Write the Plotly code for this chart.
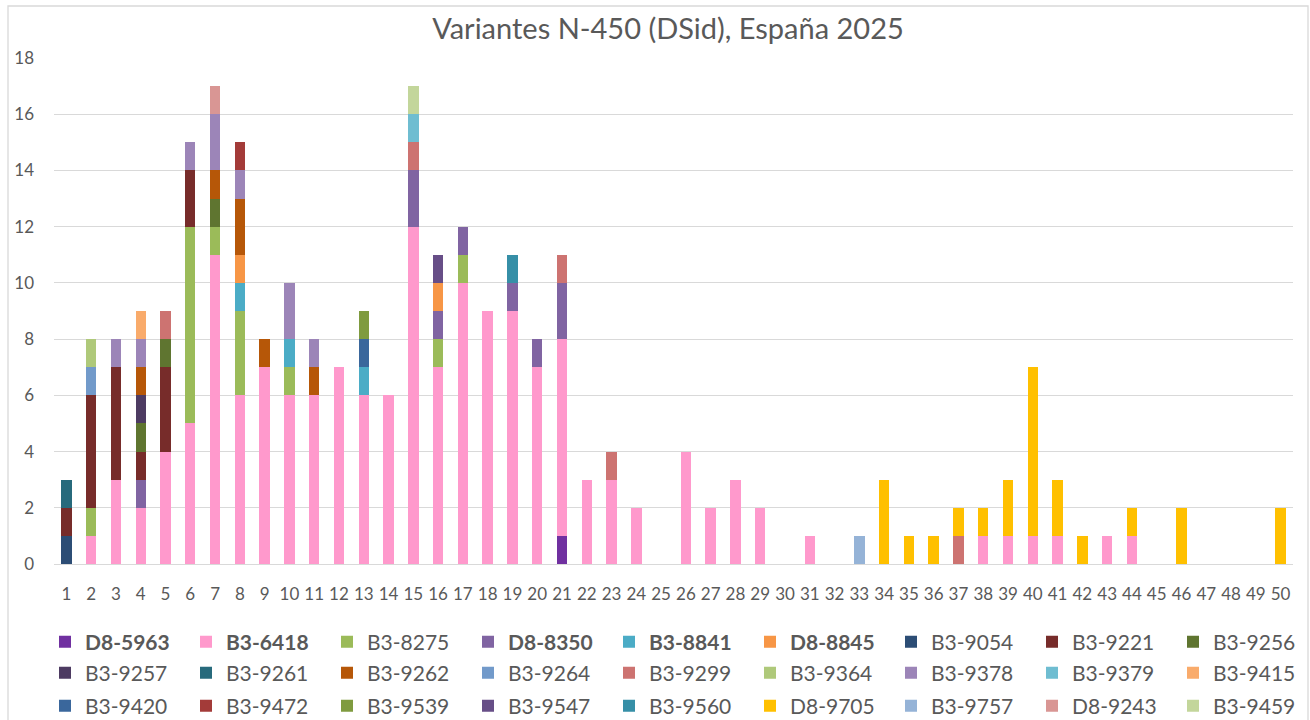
import plotly.graph_objects as go

categories = [str(i) for i in range(1, 51)]

series_names = ["<b>D8-5963</b>", "<b>B3-6418</b>", "B3-8275", "<b>D8-8350</b>", "<b>B3-8841</b>",
                "<b>D8-8845</b>", "B3-9054", "B3-9221", "B3-9256", "B3-9257", "B3-9261", "B3-9262",
                "B3-9264", "B3-9299", "B3-9364", "B3-9378", "B3-9379", "B3-9415", "B3-9420",
                "B3-9472", "B3-9539", "B3-9547", "B3-9560", "D8-9705", "B3-9757", "D8-9243", "B3-9459"]

series_colors = ["#7030A0", "#FF99CC", "#9BBB59", "#8064A2", "#4BACC6", "#F79646", "#2C4D75",
                 "#772C2A", "#5F7530", "#4D3B62", "#276A7C", "#B65708", "#729ACA", "#CD7371",
                 "#AFC97A", "#9C85B8", "#6FBDD1", "#F9AB6B", "#3A679C", "#A33B39", "#7F9B3F",
                 "#674E87", "#368FA7", "#FFC000", "#95B3D7", "#D99694", "#C3D69B"]

#            1  2  3  4  5  6  7  8  9 10 11 12 13 14 15 16 17 18 19 20 21 22 23 24 25 26 27 28 29 30 31 32 33 34 35 36 37 38 39 40 41 42 43 44 45 46 47 48 49 50
D8_5963 = [0, 0, 0, 0, 0, 0, 0, 0, 0, 0, 0, 0, 0, 0, 0, 0, 0, 0, 0, 0, 1, 0, 0, 0, 0, 0, 0, 0, 0, 0, 0, 0, 0, 0, 0, 0, 0, 0, 0, 0, 0, 0, 0, 0, 0, 0, 0, 0, 0, 0]
B3_6418 = [0, 1, 3, 2, 4, 5, 11, 6, 7, 6, 6, 7, 6, 6, 12, 7, 10, 9, 9, 7, 7, 3, 3, 2, 0, 4, 2, 3, 2, 0, 1, 0, 0, 0, 0, 0, 0, 1, 1, 1, 1, 0, 1, 1, 0, 0, 0, 0, 0, 0]
B3_8275 = [0, 1, 0, 0, 0, 7, 1, 3, 0, 1, 0, 0, 0, 0, 0, 1, 1, 0, 0, 0, 0, 0, 0, 0, 0, 0, 0, 0, 0, 0, 0, 0, 0, 0, 0, 0, 0, 0, 0, 0, 0, 0, 0, 0, 0, 0, 0, 0, 0, 0]
D8_8350 = [0, 0, 0, 1, 0, 0, 0, 0, 0, 0, 0, 0, 0, 0, 2, 1, 1, 0, 1, 1, 2, 0, 0, 0, 0, 0, 0, 0, 0, 0, 0, 0, 0, 0, 0, 0, 0, 0, 0, 0, 0, 0, 0, 0, 0, 0, 0, 0, 0, 0]
B3_8841 = [0, 0, 0, 0, 0, 0, 0, 1, 0, 1, 0, 0, 1, 0, 0, 0, 0, 0, 0, 0, 0, 0, 0, 0, 0, 0, 0, 0, 0, 0, 0, 0, 0, 0, 0, 0, 0, 0, 0, 0, 0, 0, 0, 0, 0, 0, 0, 0, 0, 0]
D8_8845 = [0, 0, 0, 0, 0, 0, 0, 1, 0, 0, 0, 0, 0, 0, 0, 1, 0, 0, 0, 0, 0, 0, 0, 0, 0, 0, 0, 0, 0, 0, 0, 0, 0, 0, 0, 0, 0, 0, 0, 0, 0, 0, 0, 0, 0, 0, 0, 0, 0, 0]
B3_9054 = [1, 0, 0, 0, 0, 0, 0, 0, 0, 0, 0, 0, 0, 0, 0, 0, 0, 0, 0, 0, 0, 0, 0, 0, 0, 0, 0, 0, 0, 0, 0, 0, 0, 0, 0, 0, 0, 0, 0, 0, 0, 0, 0, 0, 0, 0, 0, 0, 0, 0]
B3_9221 = [1, 4, 4, 1, 3, 2, 0, 0, 0, 0, 0, 0, 0, 0, 0, 0, 0, 0, 0, 0, 0, 0, 0, 0, 0, 0, 0, 0, 0, 0, 0, 0, 0, 0, 0, 0, 0, 0, 0, 0, 0, 0, 0, 0, 0, 0, 0, 0, 0, 0]
B3_9256 = [0, 0, 0, 1, 1, 0, 1, 0, 0, 0, 0, 0, 0, 0, 0, 0, 0, 0, 0, 0, 0, 0, 0, 0, 0, 0, 0, 0, 0, 0, 0, 0, 0, 0, 0, 0, 0, 0, 0, 0, 0, 0, 0, 0, 0, 0, 0, 0, 0, 0]
B3_9257 = [0, 0, 0, 1, 0, 0, 0, 0, 0, 0, 0, 0, 0, 0, 0, 0, 0, 0, 0, 0, 0, 0, 0, 0, 0, 0, 0, 0, 0, 0, 0, 0, 0, 0, 0, 0, 0, 0, 0, 0, 0, 0, 0, 0, 0, 0, 0, 0, 0, 0]
B3_9261 = [1, 0, 0, 0, 0, 0, 0, 0, 0, 0, 0, 0, 0, 0, 0, 0, 0, 0, 0, 0, 0, 0, 0, 0, 0, 0, 0, 0, 0, 0, 0, 0, 0, 0, 0, 0, 0, 0, 0, 0, 0, 0, 0, 0, 0, 0, 0, 0, 0, 0]
B3_9262 = [0, 0, 0, 1, 0, 0, 1, 2, 1, 0, 1, 0, 0, 0, 0, 0, 0, 0, 0, 0, 0, 0, 0, 0, 0, 0, 0, 0, 0, 0, 0, 0, 0, 0, 0, 0, 0, 0, 0, 0, 0, 0, 0, 0, 0, 0, 0, 0, 0, 0]
B3_9264 = [0, 1, 0, 0, 0, 0, 0, 0, 0, 0, 0, 0, 0, 0, 0, 0, 0, 0, 0, 0, 0, 0, 0, 0, 0, 0, 0, 0, 0, 0, 0, 0, 0, 0, 0, 0, 0, 0, 0, 0, 0, 0, 0, 0, 0, 0, 0, 0, 0, 0]
B3_9299 = [0, 0, 0, 0, 1, 0, 0, 0, 0, 0, 0, 0, 0, 0, 1, 0, 0, 0, 0, 0, 1, 0, 1, 0, 0, 0, 0, 0, 0, 0, 0, 0, 0, 0, 0, 0, 1, 0, 0, 0, 0, 0, 0, 0, 0, 0, 0, 0, 0, 0]
B3_9364 = [0, 1, 0, 0, 0, 0, 0, 0, 0, 0, 0, 0, 0, 0, 0, 0, 0, 0, 0, 0, 0, 0, 0, 0, 0, 0, 0, 0, 0, 0, 0, 0, 0, 0, 0, 0, 0, 0, 0, 0, 0, 0, 0, 0, 0, 0, 0, 0, 0, 0]
B3_9378 = [0, 0, 1, 1, 0, 1, 2, 1, 0, 2, 1, 0, 0, 0, 0, 0, 0, 0, 0, 0, 0, 0, 0, 0, 0, 0, 0, 0, 0, 0, 0, 0, 0, 0, 0, 0, 0, 0, 0, 0, 0, 0, 0, 0, 0, 0, 0, 0, 0, 0]
B3_9379 = [0, 0, 0, 0, 0, 0, 0, 0, 0, 0, 0, 0, 0, 0, 1, 0, 0, 0, 0, 0, 0, 0, 0, 0, 0, 0, 0, 0, 0, 0, 0, 0, 0, 0, 0, 0, 0, 0, 0, 0, 0, 0, 0, 0, 0, 0, 0, 0, 0, 0]
B3_9415 = [0, 0, 0, 1, 0, 0, 0, 0, 0, 0, 0, 0, 0, 0, 0, 0, 0, 0, 0, 0, 0, 0, 0, 0, 0, 0, 0, 0, 0, 0, 0, 0, 0, 0, 0, 0, 0, 0, 0, 0, 0, 0, 0, 0, 0, 0, 0, 0, 0, 0]
B3_9420 = [0, 0, 0, 0, 0, 0, 0, 0, 0, 0, 0, 0, 1, 0, 0, 0, 0, 0, 0, 0, 0, 0, 0, 0, 0, 0, 0, 0, 0, 0, 0, 0, 0, 0, 0, 0, 0, 0, 0, 0, 0, 0, 0, 0, 0, 0, 0, 0, 0, 0]
B3_9472 = [0, 0, 0, 0, 0, 0, 0, 1, 0, 0, 0, 0, 0, 0, 0, 0, 0, 0, 0, 0, 0, 0, 0, 0, 0, 0, 0, 0, 0, 0, 0, 0, 0, 0, 0, 0, 0, 0, 0, 0, 0, 0, 0, 0, 0, 0, 0, 0, 0, 0]
B3_9539 = [0, 0, 0, 0, 0, 0, 0, 0, 0, 0, 0, 0, 1, 0, 0, 0, 0, 0, 0, 0, 0, 0, 0, 0, 0, 0, 0, 0, 0, 0, 0, 0, 0, 0, 0, 0, 0, 0, 0, 0, 0, 0, 0, 0, 0, 0, 0, 0, 0, 0]
B3_9547 = [0, 0, 0, 0, 0, 0, 0, 0, 0, 0, 0, 0, 0, 0, 0, 1, 0, 0, 0, 0, 0, 0, 0, 0, 0, 0, 0, 0, 0, 0, 0, 0, 0, 0, 0, 0, 0, 0, 0, 0, 0, 0, 0, 0, 0, 0, 0, 0, 0, 0]
B3_9560 = [0, 0, 0, 0, 0, 0, 0, 0, 0, 0, 0, 0, 0, 0, 0, 0, 0, 0, 1, 0, 0, 0, 0, 0, 0, 0, 0, 0, 0, 0, 0, 0, 0, 0, 0, 0, 0, 0, 0, 0, 0, 0, 0, 0, 0, 0, 0, 0, 0, 0]
D8_9705 = [0, 0, 0, 0, 0, 0, 0, 0, 0, 0, 0, 0, 0, 0, 0, 0, 0, 0, 0, 0, 0, 0, 0, 0, 0, 0, 0, 0, 0, 0, 0, 0, 0, 3, 1, 1, 1, 1, 2, 6, 2, 1, 0, 1, 0, 2, 0, 0, 0, 2]
B3_9757 = [0, 0, 0, 0, 0, 0, 0, 0, 0, 0, 0, 0, 0, 0, 0, 0, 0, 0, 0, 0, 0, 0, 0, 0, 0, 0, 0, 0, 0, 0, 0, 0, 1, 0, 0, 0, 0, 0, 0, 0, 0, 0, 0, 0, 0, 0, 0, 0, 0, 0]
D8_9243 = [0, 0, 0, 0, 0, 0, 1, 0, 0, 0, 0, 0, 0, 0, 0, 0, 0, 0, 0, 0, 0, 0, 0, 0, 0, 0, 0, 0, 0, 0, 0, 0, 0, 0, 0, 0, 0, 0, 0, 0, 0, 0, 0, 0, 0, 0, 0, 0, 0, 0]
B3_9459 = [0, 0, 0, 0, 0, 0, 0, 0, 0, 0, 0, 0, 0, 0, 1, 0, 0, 0, 0, 0, 0, 0, 0, 0, 0, 0, 0, 0, 0, 0, 0, 0, 0, 0, 0, 0, 0, 0, 0, 0, 0, 0, 0, 0, 0, 0, 0, 0, 0, 0]

series_values = [D8_5963, B3_6418, B3_8275, D8_8350, B3_8841, D8_8845, B3_9054, B3_9221,
                 B3_9256, B3_9257, B3_9261, B3_9262, B3_9264, B3_9299, B3_9364, B3_9378,
                 B3_9379, B3_9415, B3_9420, B3_9472, B3_9539, B3_9547, B3_9560, D8_9705,
                 B3_9757, D8_9243, B3_9459]

title_text = "Variantes N-450 (DSid), España 2025"
y_ticks = list(range(0, 19, 2))

TXT = "#595959"
GRID = "#D9D9D9"
FONT = "Lato, 'Open Sans', sans-serif"

W, H = 1310, 720
plot_right = 1293
L, R, T, B = 54, W - plot_right, 58, 156
PW, PH = W - L - R, H - T - B

per_row = 9
col_w = 141
leg_x = 45
legend_rows_px = [642, 673, 706]

fig = go.Figure()
for i, (name, vals, col) in enumerate(zip(series_names, series_values, series_colors)):
    row, col_idx = divmod(i, per_row)
    part = 0 if col_idx < per_row - 1 else 1
    lid = "legend" if (row == 0 and part == 0) else "legend%d" % (2 + row * 2 + part - 1)
    fig.add_trace(go.Bar(x=categories, y=vals, name=name, legend=lid,
                         marker=dict(color=col, line=dict(width=0))))

leg_font = dict(family=FONT, size=21, color=TXT)
legends = {}
for row, ypx in enumerate(legend_rows_px):
    lid_a = "legend" if row == 0 else "legend%d" % (1 + row * 2)
    lid_b = "legend%d" % (2 + row * 2)
    common = dict(orientation="h", xref="container", yref="container", xanchor="left",
                  yanchor="middle", y=1 - ypx / H, traceorder="normal", font=leg_font,
                  bgcolor="rgba(0,0,0,0)")
    legends[lid_a] = dict(common, x=leg_x / W, entrywidth=col_w - 45, entrywidthmode="pixels")
    legends[lid_b] = dict(common, x=(leg_x + (per_row - 1) * col_w) / W)

fig.update_layout(
    width=W, height=H,
    barmode="stack", bargap=0.58,
    paper_bgcolor="white", plot_bgcolor="white",
    margin=dict(l=L, r=R, t=T, b=B, autoexpand=False),
    font=dict(family=FONT, color=TXT, size=17),
    title=dict(text=title_text, x=668 / W, xanchor="center", xref="container",
               y=1 - 29 / H, yanchor="middle", yref="container",
               font=dict(family=FONT, size=29, color=TXT)),
    xaxis=dict(type="category", categoryorder="array", categoryarray=categories,
               showgrid=False, showline=True, linecolor=GRID, linewidth=1,
               ticks="", tickfont=dict(size=17, color=TXT), ticklabelstandoff=15,
               fixedrange=True),
    yaxis=dict(range=[0, 18], tickvals=y_ticks, showgrid=True, gridcolor=GRID,
               gridwidth=1, zeroline=False, showline=False, ticks="",
               tickfont=dict(size=17, color=TXT), ticklabelstandoff=19),
    showlegend=True,
    shapes=[dict(type="rect", xref="paper", yref="paper",
                 x0=(8 - L) / PW, x1=(1308 - L) / PW,
                 y0=-(B + 20) / PH, y1=1 + (T - 6) / PH,
                 line=dict(color=GRID, width=1.3), fillcolor="rgba(0,0,0,0)", layer="below")],
    **legends,
)

# remove the page's default body margin so the figure sits at the window's top-left corner
fig.write_html("out.html", config={"displayModeBar": False},
               post_script="document.body.style.margin='0';document.body.style.overflow='hidden';")
